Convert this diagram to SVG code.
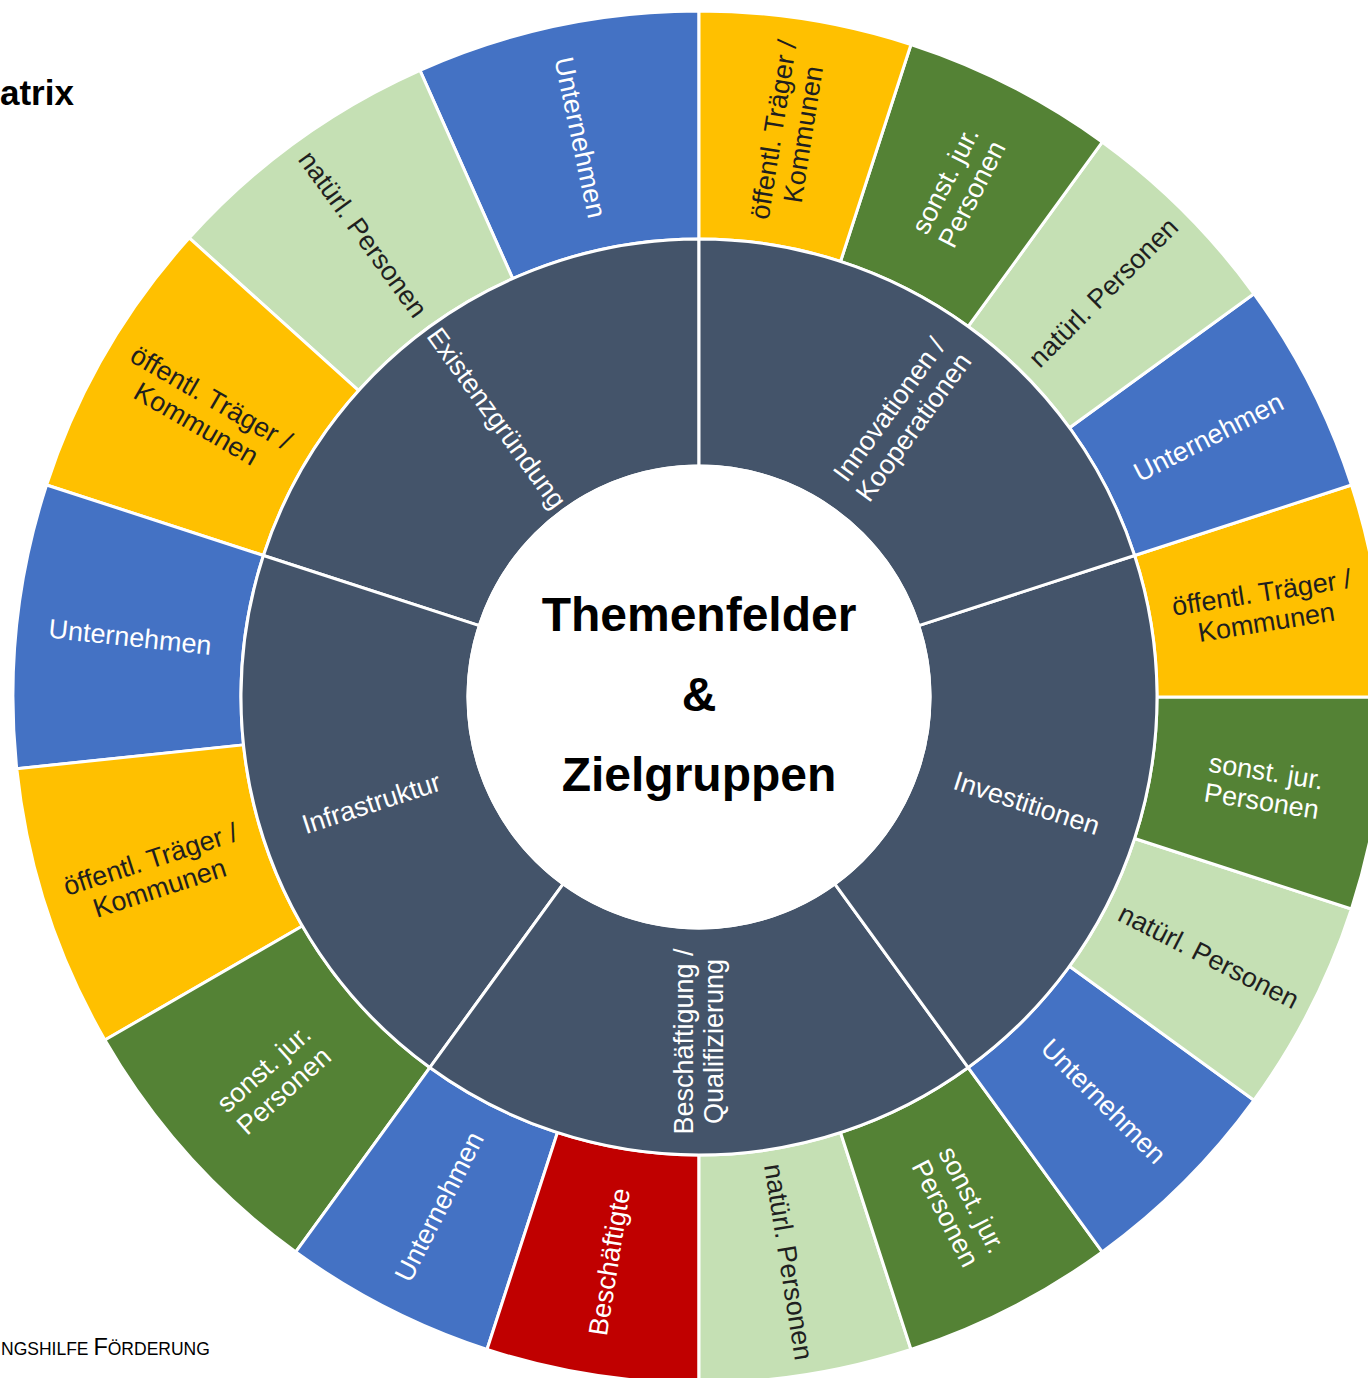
<svg xmlns="http://www.w3.org/2000/svg" width="1368" height="1378" viewBox="0 0 1368 1378">
<style>
.seg{stroke:#FFFFFF;stroke-width:3;stroke-linejoin:round}
.un{fill:#4472C4}
.np{fill:#C5E0B4}
.ot{fill:#FFC000}
.sj{fill:#548235}
.be{fill:#C00000}
.mid{fill:#44546A}
.lbl{font-family:"Liberation Sans",Arial,sans-serif;font-size:27px;text-anchor:middle}
.w{fill:#FFFFFF}
.d{fill:#1F1F1F}
.ctr{font-family:"Liberation Sans",Arial,sans-serif;font-size:48px;font-weight:bold;text-anchor:middle;fill:#000000}
</style>
<rect x="0" y="0" width="1368" height="1378" fill="#FFFFFF"/>
<text x="0" y="105" font-family="'Liberation Sans',Arial,sans-serif" font-size="35" font-weight="bold" fill="#000000">atrix</text>
<text x="1" y="1355" font-family="'Liberation Sans',Arial,sans-serif" fill="#000000"><tspan font-size="17.5">NGSHILFE </tspan><tspan font-size="23.5">F</tspan><tspan font-size="17.5">ÖRDERUNG</tspan></text>

<g id="outer-ring">
<g id="o1"><path class="seg un" d="M699,11 A686,686 0 0 0 419.98,70.31 L512.71,278.60 A458,458 0 0 1 699,239 Z"/><g transform="translate(580.07,137.50) rotate(78)"><text class="lbl w" y="9">Unternehmen</text></g></g>
<g id="o2"><path class="seg np" d="M419.98,70.31 A686,686 0 0 0 189.20,237.98 L358.64,390.54 A458,458 0 0 1 512.71,278.60 Z"/><g transform="translate(362.79,234.24) rotate(54)"><text class="lbl d" y="9">natürl. Personen</text></g></g>
<g id="o3"><path class="seg ot" d="M189.20,237.98 A686,686 0 0 0 46.57,485.01 L263.42,555.47 A458,458 0 0 1 358.64,390.54 Z"/><g transform="translate(203.63,411) rotate(30)"><text class="lbl d"><tspan x="0" y="-6">öffentl. Träger /</tspan><tspan x="0" y="24">Kommunen</tspan></text></g></g>
<g id="o4"><path class="seg un" d="M46.57,485.01 A686,686 0 0 0 16.76,768.71 L243.51,744.87 A458,458 0 0 1 263.42,555.47 Z"/><g transform="translate(130.13,637.21) rotate(6)"><text class="lbl w" y="9">Unternehmen</text></g></g>
<g id="o5"><path class="seg ot" d="M16.76,768.71 A686,686 0 0 0 104.91,1040 L302.36,926 A458,458 0 0 1 243.51,744.87 Z"/><g transform="translate(155,873.76) rotate(-18)"><text class="lbl d"><tspan x="0" y="-6">öffentl. Träger /</tspan><tspan x="0" y="24">Kommunen</tspan></text></g></g>
<g id="o6"><path class="seg sj" d="M104.91,1040 A686,686 0 0 0 295.78,1251.99 L429.79,1067.53 A458,458 0 0 1 302.36,926 Z"/><g transform="translate(273.92,1079.74) rotate(-42)"><text class="lbl w"><tspan x="0" y="-6">sonst. jur.</tspan><tspan x="0" y="24">Personen</tspan></text></g></g>
<g id="o7"><path class="seg un" d="M295.78,1251.99 A686,686 0 0 0 487.01,1349.43 L557.47,1132.58 A458,458 0 0 1 429.79,1067.53 Z"/><g transform="translate(439.32,1206.66) rotate(-63)"><text class="lbl w" y="9">Unternehmen</text></g></g>
<g id="o8"><path class="seg be" d="M487.01,1349.43 A686,686 0 0 0 699,1383 L699,1155 A458,458 0 0 1 557.47,1132.58 Z"/><g transform="translate(609.52,1261.96) rotate(-81)"><text class="lbl w" y="9">Beschäftigte</text></g></g>
<g id="o9"><path class="seg np" d="M699,1383 A686,686 0 0 0 910.99,1349.43 L840.53,1132.58 A458,458 0 0 1 699,1155 Z"/><g transform="translate(788.48,1261.96) rotate(81)"><text class="lbl d" y="9">natürl. Personen</text></g></g>
<g id="o10"><path class="seg sj" d="M910.99,1349.43 A686,686 0 0 0 1102.22,1251.99 L968.21,1067.53 A458,458 0 0 1 840.53,1132.58 Z"/><g transform="translate(958.68,1206.66) rotate(63)"><text class="lbl w"><tspan x="0" y="-6">sonst. jur.</tspan><tspan x="0" y="24">Personen</tspan></text></g></g>
<g id="o11"><path class="seg un" d="M1102.22,1251.99 A686,686 0 0 0 1253.99,1100.22 L1069.53,966.21 A458,458 0 0 1 968.21,1067.53 Z"/><g transform="translate(1103.47,1101.47) rotate(45)"><text class="lbl w" y="9">Unternehmen</text></g></g>
<g id="o12"><path class="seg np" d="M1253.99,1100.22 A686,686 0 0 0 1351.43,908.99 L1134.58,838.53 A458,458 0 0 1 1069.53,966.21 Z"/><g transform="translate(1208.66,956.68) rotate(27)"><text class="lbl d" y="9">natürl. Personen</text></g></g>
<g id="o13"><path class="seg sj" d="M1351.43,908.99 A686,686 0 0 0 1385,697 L1157,697 A458,458 0 0 1 1134.58,838.53 Z"/><g transform="translate(1263.96,786.48) rotate(9)"><text class="lbl w"><tspan x="0" y="-6">sonst. jur.</tspan><tspan x="0" y="24">Personen</tspan></text></g></g>
<g id="o14"><path class="seg ot" d="M1385,697 A686,686 0 0 0 1351.43,485.01 L1134.58,555.47 A458,458 0 0 1 1157,697 Z"/><g transform="translate(1263.96,607.52) rotate(-9)"><text class="lbl d"><tspan x="0" y="-6">öffentl. Träger /</tspan><tspan x="0" y="24">Kommunen</tspan></text></g></g>
<g id="o15"><path class="seg un" d="M1351.43,485.01 A686,686 0 0 0 1253.99,293.78 L1069.53,427.79 A458,458 0 0 1 1134.58,555.47 Z"/><g transform="translate(1208.66,437.32) rotate(-27)"><text class="lbl w" y="9">Unternehmen</text></g></g>
<g id="o16"><path class="seg np" d="M1253.99,293.78 A686,686 0 0 0 1102.22,142.01 L968.21,326.47 A458,458 0 0 1 1069.53,427.79 Z"/><g transform="translate(1103.47,292.53) rotate(-45)"><text class="lbl d" y="9">natürl. Personen</text></g></g>
<g id="o17"><path class="seg sj" d="M1102.22,142.01 A686,686 0 0 0 910.99,44.57 L840.53,261.42 A458,458 0 0 1 968.21,326.47 Z"/><g transform="translate(958.68,187.34) rotate(-63)"><text class="lbl w"><tspan x="0" y="-6">sonst. jur.</tspan><tspan x="0" y="24">Personen</tspan></text></g></g>
<g id="o18"><path class="seg ot" d="M910.99,44.57 A686,686 0 0 0 699,11 L699,239 A458,458 0 0 1 840.53,261.42 Z"/><g transform="translate(788.48,132.04) rotate(-81)"><text class="lbl d"><tspan x="0" y="-6">öffentl. Träger /</tspan><tspan x="0" y="24">Kommunen</tspan></text></g></g>
</g>

<g id="middle-ring">
<g id="m-existenz"><path class="seg mid" d="M699,239 A458,458 0 0 0 263.42,555.47 L479.31,625.62 A231,231 0 0 1 699,466 Z"/><g transform="translate(496.51,418.29) rotate(54)"><text class="lbl w" y="9">Existenzgründung</text></g></g>
<g id="m-infra"><path class="seg mid" d="M263.42,555.47 A458,458 0 0 0 429.79,1067.53 L563.22,883.88 A231,231 0 0 1 479.31,625.62 Z"/><g transform="translate(371.36,803.46) rotate(-18)"><text class="lbl w" y="9">Infrastruktur</text></g></g>
<g id="m-besch"><path class="seg mid" d="M429.79,1067.53 A458,458 0 0 0 968.21,1067.53 L834.78,883.88 A231,231 0 0 1 563.22,883.88 Z"/><g transform="translate(699,1041.5) rotate(-90)"><text class="lbl w"><tspan x="0" y="-6">Beschäftigung /</tspan><tspan x="0" y="24">Qualifizierung</tspan></text></g></g>
<g id="m-invest"><path class="seg mid" d="M968.21,1067.53 A458,458 0 0 0 1134.58,555.47 L918.69,625.62 A231,231 0 0 1 834.78,883.88 Z"/><g transform="translate(1026.64,803.46) rotate(18)"><text class="lbl w" y="9">Investitionen</text></g></g>
<g id="m-innov"><path class="seg mid" d="M1134.58,555.47 A458,458 0 0 0 699,239 L699,466 A231,231 0 0 1 918.69,625.62 Z"/><g transform="translate(901.49,418.29) rotate(-54)"><text class="lbl w"><tspan x="0" y="-6">Innovationen /</tspan><tspan x="0" y="24">Kooperationen</tspan></text></g></g>
</g>

<g id="center">
<circle cx="699" cy="697" r="231" fill="#FFFFFF" stroke="#FFFFFF" stroke-width="3"/>
<text class="ctr" x="699" y="631">Themenfelder</text>
<text class="ctr" x="699" y="711">&amp;</text>
<text class="ctr" x="699" y="791">Zielgruppen</text>
</g>
<g id="connectors"/>
</svg>
